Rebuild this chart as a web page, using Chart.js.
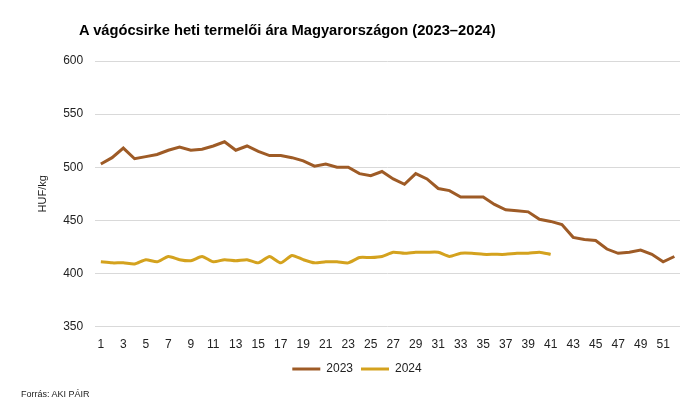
<!DOCTYPE html>
<html>
<head>
<meta charset="utf-8">
<script src="https://cdn.jsdelivr.net/npm/chart.js@4.4.1/dist/chart.umd.min.js"></script>
<style>
  body { margin: 0; background: #fff; }
  #wrap { position: relative; width: 695px; height: 408px; }
  #title { position: absolute; left: 79px; top: 22px; font: bold 14.7px "Liberation Sans", Arial, sans-serif; color: #000; }
  #source { position: absolute; left: 21px; top: 389px; font: 9px "Liberation Sans", Arial, sans-serif; color: #222; }
</style>
</head>
<body>
<div id="wrap">
  <canvas id="chart" width="695" height="408"></canvas>
  <div id="title">A vágócsirke heti termelői ára Magyarországon (2023–2024)</div>
  <div id="source">Forrás: AKI PÁIR</div>
</div>
<script>
//// data
const weeks = Array.from({ length: 52 }, (_, i) => String(i + 1))
const prices2023 = [503, 509, 518, 508, 510, 512, 516, 519, 516, 517, 520, 524, 516, 520, 515, 511,
    511, 509, 506, 501, 503, 500, 500, 494, 492, 496, 489, 484, 494, 489, 480, 478,
    472, 472, 472, 465, 460, 459, 458, 451, 449, 446, 434, 432, 431, 423, 419, 420,
    422, 418, 411, 416]
const prices2024 = [411, 410, 410, 409, 413, 411, 416, 413, 412, 416, 411, 413, 412, 413, 410, 416,
    410, 417, 413, 410, 411, 411, 410, 415, 415, 416, 420, 419, 420, 420, 420, 416,
    419, 419, 418, 418, 418, 419, 419, 420, 418]

//// chart
const chartElement = document.querySelector("#chart")

let priceChart = new Chart(chartElement, {
    type: 'line',
    data: {
        labels: weeks,
        datasets: [
            {
                label: '2023',
                data: prices2023,
                borderColor: '#9E5B26',
                backgroundColor: '#9E5B26',
                borderWidth: 3,
                pointRadius: 0,
                tension: 0
            },
            {
                label: '2024',
                data: prices2024,
                borderColor: '#D4A21E',
                backgroundColor: '#D4A21E',
                borderWidth: 3,
                pointRadius: 0,
                tension: 0.2
            }
        ]
    },
    options: {
        responsive: false,
        animation: false,
        layout: {
            padding: { left: 34, right: 15, top: 61, bottom: 23 }
        },
        plugins: {
            title: { display: false },
            tooltip: { enabled: false },
            legend: {
                position: 'bottom',
                labels: {
                    boxWidth: 28,
                    boxHeight: 3,
                    padding: 8,
                    color: '#222',
                    font: { family: 'Liberation Sans', size: 12 },
                    generateLabels: function (chart) {
                        return Chart.defaults.plugins.legend.labels.generateLabels(chart).map(l => {
                            l.lineWidth = 0
                            return l
                        })
                    }
                }
            }
        },
        scales: {
            x: {
                offset: true,
                grid: { display: false },
                border: { display: false },
                ticks: {
                    autoSkip: false,
                    maxRotation: 0,
                    color: '#222',
                    font: { family: 'Liberation Sans', size: 12 },
                    callback: function (value, index) {
                        return index % 2 === 0 ? this.getLabelForValue(value) : ''
                    }
                }
            },
            y: {
                min: 350,
                max: 600,
                grid: { color: '#d9d9d9', drawTicks: false },
                border: { display: false },
                ticks: {
                    stepSize: 50,
                    padding: 12,
                    color: '#222',
                    font: { family: 'Liberation Sans', size: 12 }
                },
                title: {
                    display: true,
                    text: 'HUF/kg',
                    padding: 2,
                    color: '#222',
                    font: { family: 'Liberation Sans', size: 11 }
                }
            }
        }
    }
});

priceChart.update()
</script>
</body>
</html>
